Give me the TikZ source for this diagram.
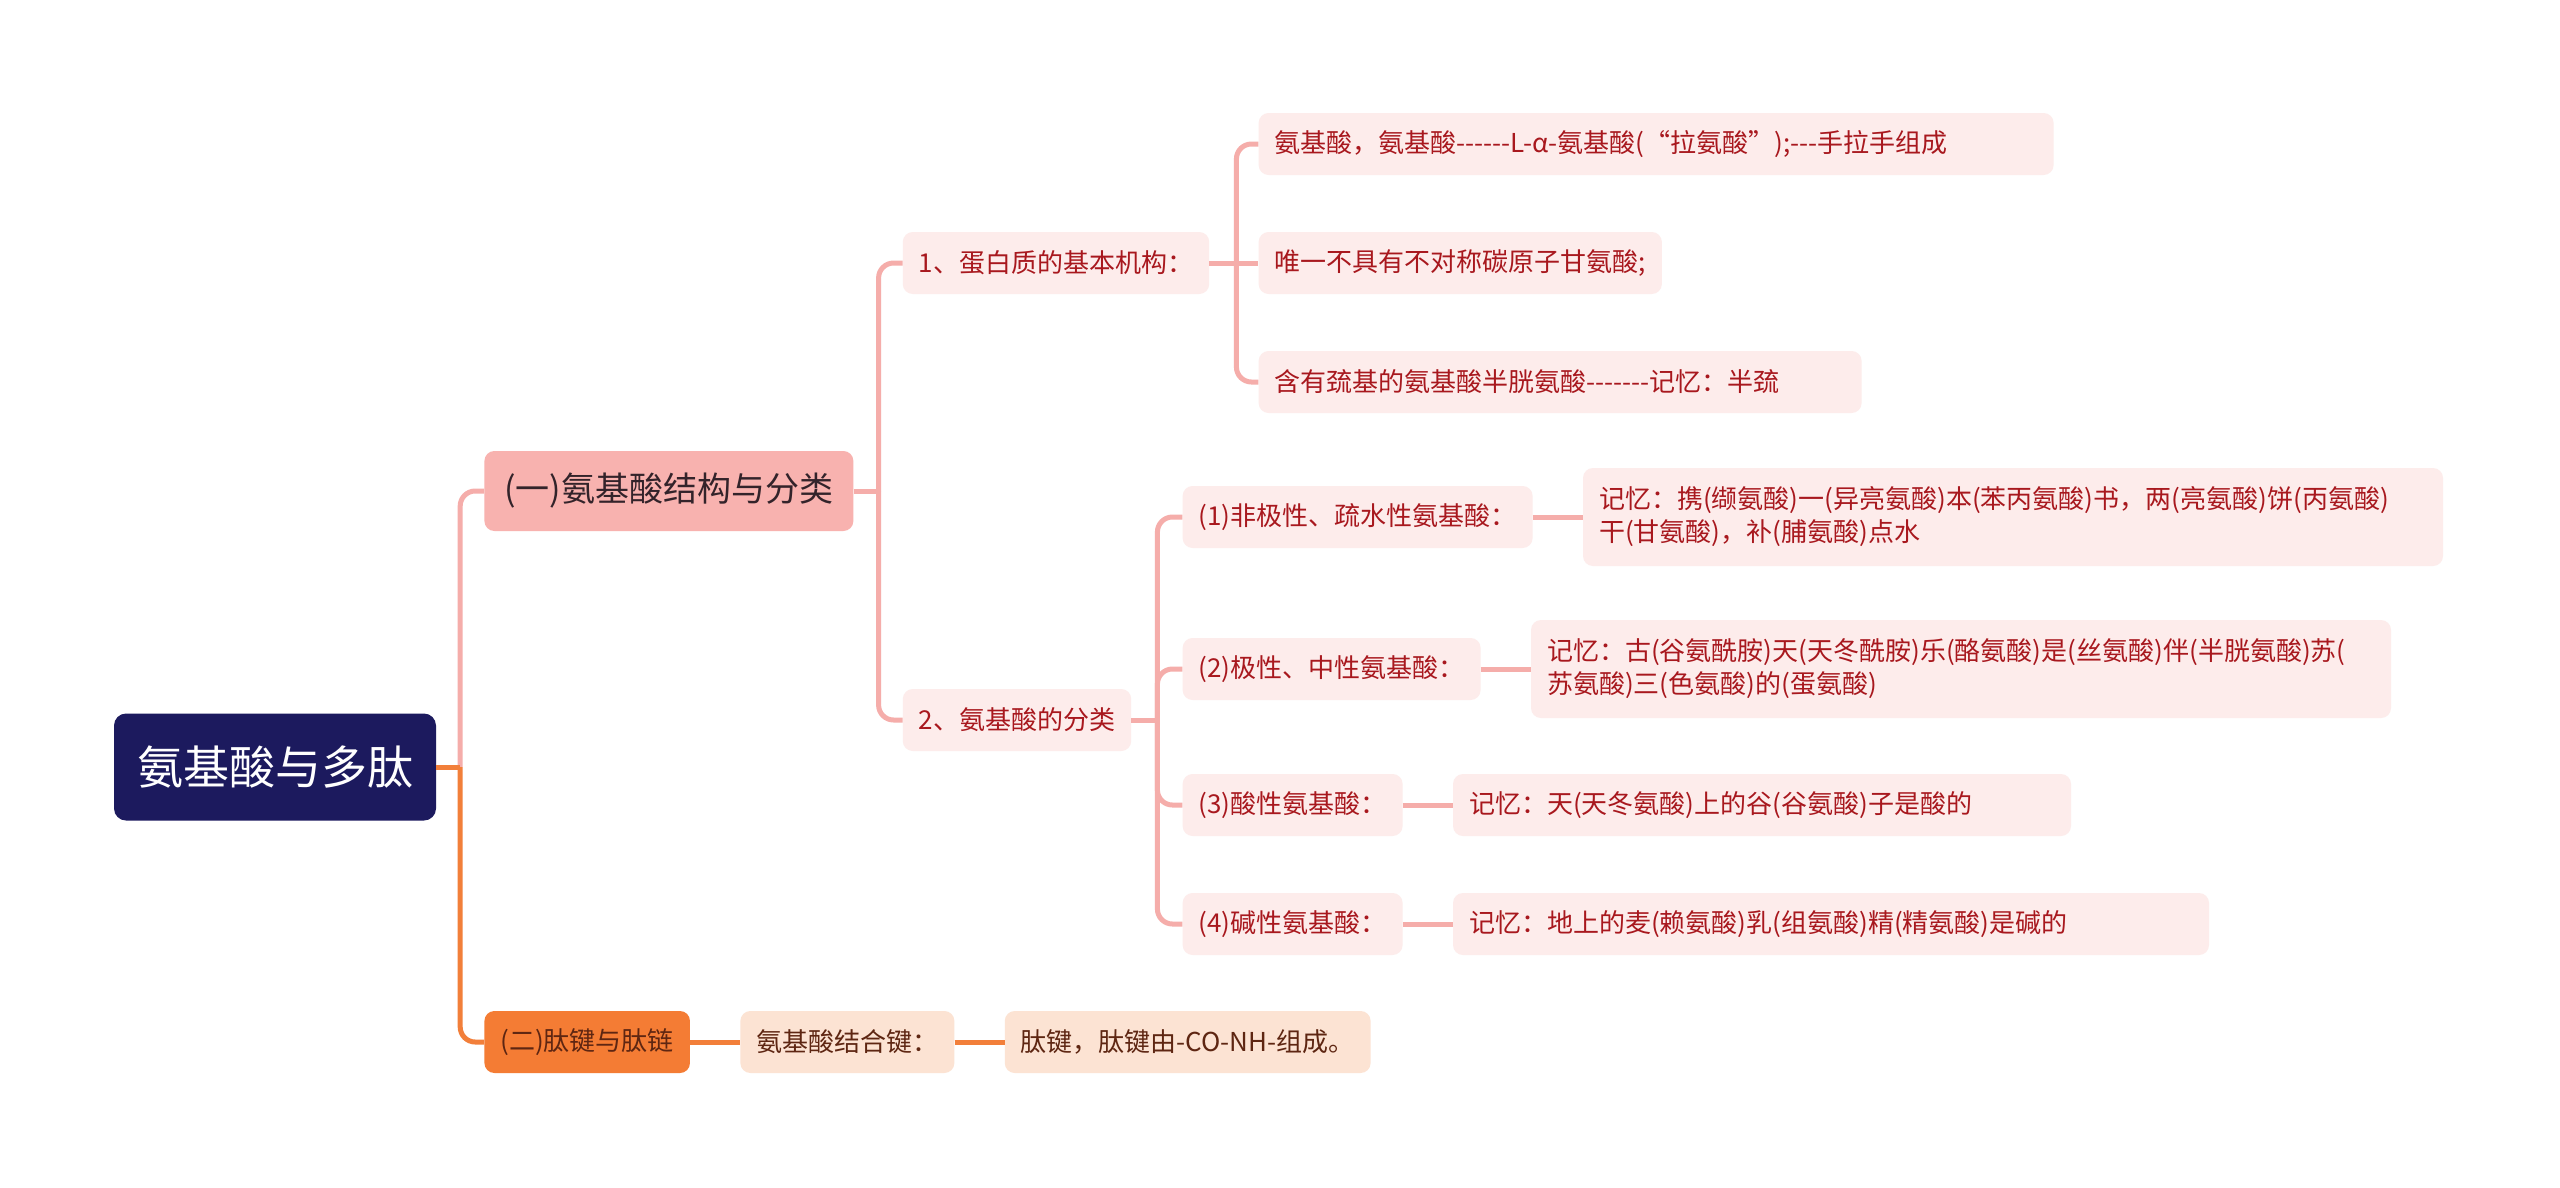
\documentclass[tikz,border=0pt]{standalone}
\usepackage{fontspec}
\newfontfamily\cjkfont{Noto Sans CJK SC}[Ligatures=TeXOff]
\usepackage{tikz}
\usetikzlibrary{positioning}
\definecolor{rootfill}{HTML}{1C1A5E}
\definecolor{pinkbox}{HTML}{F8B2AF}
\definecolor{pinkline}{HTML}{F5ADAA}
\definecolor{leaffill}{HTML}{FDECEB}
\definecolor{leaftext}{HTML}{A8181E}
\definecolor{orangebox}{HTML}{F47C34}
\definecolor{orangeline}{HTML}{F27F3A}
\definecolor{peach}{HTML}{FCE3D3}
\definecolor{darktext}{HTML}{33232A}
\definecolor{browntext}{HTML}{5E2612}
\tikzset{
  topic/.style={rectangle, rounded corners=12pt, fill=rootfill,
                text=white, inner xsep=23pt, inner ysep=0pt,
                minimum height=107pt,
                font=\cjkfont\fontsize{46pt}{52pt}\selectfont},
  branch/.style={rectangle, rounded corners=10pt, fill=pinkbox,
                 text=darktext, inner xsep=20pt, inner ysep=0pt,
                 minimum height=80pt,
                 font=\cjkfont\fontsize{34pt}{40pt}\selectfont},
  branchorange/.style={branch, fill=orangebox, text=browntext,
                       inner xsep=16pt, minimum height=62pt,
                       font=\cjkfont\fontsize{26pt}{33pt}\selectfont},
  item/.style={rectangle, rounded corners=10pt, fill=leaffill,
               text=leaftext, inner xsep=16pt, inner ysep=0pt,
               minimum height=62pt, align=left,
               font=\cjkfont\fontsize{26pt}{33pt}\selectfont},
  itempeach/.style={item, fill=peach, text=browntext},
  memo/.style={item, text width=828pt, minimum height=98pt},
  link/.style={line width=5pt, draw=pinkline, rounded corners=15pt},
  linkorange/.style={link, draw=orangeline},
}

\begin{document}
\begin{tikzpicture}[x=1pt, y=-1pt]
  \path[fill=white, use as bounding box] (0,0) rectangle (2560,1187);

  % Root
  \node[topic] (root) at (275,767) {氨基酸与多肽};

  % Main branches
  \node[branch, right=48pt of root, yshift=276pt] (sec1)
    {(一)氨基酸结构与分类};
  \node[branchorange, right=48pt of root, yshift=-275pt] (sec2)
    {(二)肽键与肽链};

  \coordinate[right=24pt of root] (rootbus);
  \draw[link] (rootbus) |- (sec1);
  \draw[linkorange] (root) -- (rootbus);
  \draw[linkorange] (rootbus) |- (sec2);

  % Structure and classes
  \node[item, right=49pt of sec1, yshift=228pt] (basic)
    {1、蛋白质的基本机构：};
  \node[item, right=49pt of sec1, yshift=-229pt] (kinds)
    {2、氨基酸的分类};

  \coordinate[right=25pt of sec1] (sec1bus);
  \draw[link] (sec1) -- (sec1bus);
  \draw[link] (sec1bus) |- (basic);
  \draw[link] (sec1bus) |- (kinds);

  % Basic structure
  \node[item, right=49pt of basic, yshift=119pt, text width=763pt] (alpha)
    {氨基酸，氨基酸------L-α-氨基酸(“拉氨酸”);---手拉手组成};
  \node[item, right=49pt of basic] (gly)
    {唯一不具有不对称碳原子甘氨酸;};
  \node[item, right=49pt of basic, yshift=-119pt, text width=571pt] (cys)
    {含有巯基的氨基酸半胱氨酸-------记忆：半巯};

  \coordinate[right=27pt of basic] (basicbus);
  \draw[link] (basic) -- (gly);
  \draw[link] (basicbus) |- (alpha);
  \draw[link] (basicbus) |- (cys);

  % Classes
  \node[item, right=51pt of kinds, yshift=203pt] (nonpolar)
    {(1)非极性、疏水性氨基酸：};
  \node[item, right=51pt of kinds, yshift=51pt] (polar)
    {(2)极性、中性氨基酸：};
  \node[item, right=51pt of kinds, yshift=-85pt] (acidic)
    {(3)酸性氨基酸：};
  \node[item, right=51pt of kinds, yshift=-204pt] (basicaa)
    {(4)碱性氨基酸：};

  \coordinate[right=26pt of kinds] (kindsbus);
  \draw[link] (kinds) -- (kindsbus);
  \draw[link] (kindsbus) |- (nonpolar);
  \draw[link] (kindsbus) |- (polar);
  \draw[link] (kindsbus) |- (acidic);
  \draw[link] (kindsbus) |- (basicaa);

  % Memory rhymes
  \node[memo, right=50pt of nonpolar] (memo1)
    {记忆：携(缬氨酸)一(异亮氨酸)本(苯丙氨酸)书，两(亮氨酸)饼(丙氨酸)\\
     干(甘氨酸)，补(脯氨酸)点水};
  \node[memo, right=50pt of polar] (memo2)
    {记忆：古(谷氨酰胺)天(天冬酰胺)乐(酪氨酸)是(丝氨酸)伴(半胱氨酸)苏(\\
     苏氨酸)三(色氨酸)的(蛋氨酸)};
  \node[item, right=50pt of acidic, text width=586pt] (memo3)
    {记忆：天(天冬氨酸)上的谷(谷氨酸)子是酸的};
  \node[item, right=50pt of basicaa, text width=724pt] (memo4)
    {记忆：地上的麦(赖氨酸)乳(组氨酸)精(精氨酸)是碱的};

  \draw[link] (nonpolar) -- (memo1);
  \draw[link] (polar) -- (memo2);
  \draw[link] (acidic) -- (memo3);
  \draw[link] (basicaa) -- (memo4);

  % Peptide bond
  \node[itempeach, right=50pt of sec2] (bond) {氨基酸结合键：};
  \node[itempeach, right=50pt of bond] (peptide)
    {肽键，肽键由-CO-NH-组成。};

  \draw[linkorange] (sec2) -- (bond);
  \draw[linkorange] (bond) -- (peptide);
\end{tikzpicture}
\end{document}
